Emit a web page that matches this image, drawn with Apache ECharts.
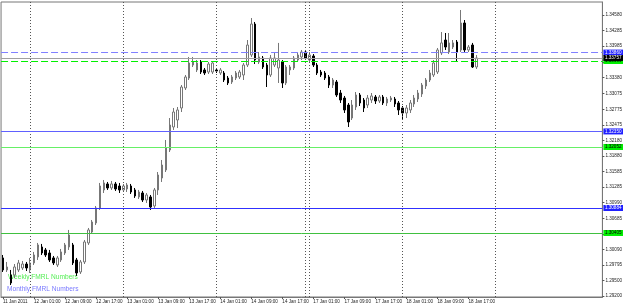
<!DOCTYPE html>
<html><head><meta charset="utf-8">
<script src="https://cdn.jsdelivr.net/npm/echarts@6/dist/echarts.min.js"></script>
<style>html,body{margin:0;padding:0;background:#fff}#c{width:625px;height:307px}</style>
</head><body><div id="c"></div>
<script>
// Hourly EURUSD candles, 11 Jan 2011 17:00 .. 18 Jan 2011 19:00
const days = ['11 Jan','12 Jan','13 Jan','14 Jan','17 Jan','18 Jan','19 Jan','20 Jan'];
const open = [1.29927,1.29697,1.29601,1.29601,1.29697,1.29735,1.29811,1.29697,1.29831,1.29946,
1.30137,1.30080,1.30022,1.29927,1.29792,1.29888,1.30022,1.30137,1.30176,1.29888,
1.29658,1.29850,1.30214,1.30424,1.30597,1.30884,1.31229,1.31344,1.31267,1.31344,
1.31305,1.31229,1.31248,1.31305,1.31229,1.31095,1.31171,1.31037,1.31095,1.30922,
1.31229,1.31458,1.31612,1.31995,1.32435,1.32569,1.32799,1.33182,1.33373,1.33622,
1.33527,1.33680,1.33527,1.33488,1.33488,1.33527,1.33469,1.33469,1.33373,1.33297,
1.33373,1.33393,1.33431,1.33622,1.33814,1.34407,1.33680,1.33756,1.33622,1.33431,
1.33622,1.33565,1.33680,1.33278,1.33527,1.33565,1.33718,1.33776,1.33871,1.33718,
1.33795,1.33622,1.33488,1.33469,1.33393,1.33239,1.33297,1.33086,1.32990,1.32856,
1.32607,1.32818,1.33048,1.32952,1.32856,1.32952,1.33010,1.32933,1.33010,1.32895,
1.32952,1.32971,1.32895,1.32799,1.32703,1.32761,1.32876,1.32971,1.33067,1.33220,
1.33335,1.33431,1.33488,1.33852,1.34101,1.33871,1.33967,1.34063,1.33910,1.34427,
1.33910,1.34005,1.33584];
const close = [1.29697,1.29754,1.29448,1.29754,1.29831,1.29811,1.29735,1.29831,1.29984,1.30176,
1.30022,1.29984,1.29888,1.29831,1.29927,1.30042,1.30176,1.30367,1.29831,1.29639,
1.29850,1.30233,1.30463,1.30616,1.30884,1.31305,1.31363,1.31267,1.31344,1.31248,
1.31229,1.31305,1.31324,1.31190,1.31114,1.31190,1.31037,1.31133,1.30903,1.31229,
1.31516,1.31707,1.32033,1.32473,1.32722,1.32761,1.33201,1.33393,1.33661,1.33680,
1.33661,1.33488,1.33469,1.33641,1.33661,1.33507,1.33527,1.33335,1.33278,1.33393,
1.33469,1.33488,1.33622,1.34005,1.34407,1.33718,1.33776,1.33584,1.33431,1.33756,
1.33756,1.33718,1.33278,1.33584,1.33584,1.33756,1.33814,1.33871,1.33756,1.33814,
1.33622,1.33469,1.33431,1.33373,1.33239,1.33335,1.33048,1.32952,1.32761,1.32531,
1.32856,1.33048,1.32895,1.32799,1.32990,1.33029,1.32933,1.33010,1.32895,1.32971,
1.32990,1.32876,1.32761,1.32703,1.32799,1.32895,1.32990,1.33086,1.33239,1.33335,
1.33469,1.33661,1.33910,1.34045,1.33967,1.34045,1.34045,1.33871,1.34427,1.33910,
1.33967,1.33584,1.33757];
const low = [1.29658,1.29658,1.29409,1.29543,1.29658,1.29697,1.29677,1.29639,1.29792,1.29888,
1.29984,1.29946,1.29850,1.29792,1.29754,1.29850,1.29984,1.30080,1.29792,1.29582,
1.29620,1.29811,1.30176,1.30386,1.30558,1.30846,1.31171,1.31229,1.31229,1.31210,
1.31171,1.31190,1.31190,1.31152,1.31076,1.31056,1.30999,1.30980,1.30846,1.30884,
1.31133,1.31382,1.31573,1.31956,1.32378,1.32415,1.32722,1.33144,1.33335,1.33584,
1.33488,1.33450,1.33431,1.33450,1.33450,1.33469,1.33431,1.33297,1.33239,1.33259,
1.33335,1.33354,1.33335,1.33584,1.33776,1.33641,1.33641,1.33546,1.33201,1.33393,
1.33584,1.33278,1.33182,1.33239,1.33431,1.33527,1.33680,1.33718,1.33718,1.33680,
1.33584,1.33431,1.33393,1.33335,1.33182,1.33182,1.33010,1.32895,1.32703,1.32435,
1.32569,1.32761,1.32837,1.32722,1.32799,1.32895,1.32876,1.32895,1.32856,1.32837,
1.32914,1.32818,1.32665,1.32569,1.32607,1.32703,1.32818,1.32914,1.33010,1.33163,
1.33297,1.33393,1.33450,1.33814,1.33910,1.33833,1.33929,1.33680,1.33871,1.33871,
1.33871,1.33565,1.33546];
const high = [1.29984,1.29850,1.29697,1.29811,1.29888,1.29869,1.29850,1.29927,1.30042,1.30214,
1.30195,1.30118,1.30080,1.29965,1.29965,1.30099,1.30214,1.30463,1.30214,1.29927,
1.29888,1.30271,1.30501,1.30654,1.30922,1.31363,1.31420,1.31382,1.31401,1.31382,
1.31363,1.31344,1.31363,1.31344,1.31267,1.31229,1.31210,1.31171,1.31133,1.31267,
1.31573,1.31803,1.32186,1.32607,1.32799,1.32818,1.33239,1.33431,1.33776,1.33776,
1.33718,1.33718,1.33565,1.33680,1.33699,1.33565,1.33565,1.33507,1.33412,1.33431,
1.33507,1.33527,1.33661,1.34101,1.34522,1.34446,1.33871,1.33795,1.33661,1.33814,
1.33852,1.34045,1.33718,1.33622,1.33622,1.33795,1.33852,1.33910,1.33910,1.33871,
1.33833,1.33661,1.33527,1.33507,1.33431,1.33373,1.33335,1.33144,1.33029,1.32895,
1.32952,1.33105,1.33086,1.32990,1.33048,1.33086,1.33048,1.33048,1.33048,1.33010,
1.33029,1.33010,1.32933,1.32837,1.32856,1.32952,1.33048,1.33144,1.33278,1.33373,
1.33527,1.33718,1.33948,1.34254,1.34235,1.34235,1.34101,1.34101,1.34676,1.34484,
1.34005,1.34045,1.33814];
const tickLabels = [1.29200,1.29500,1.29795,1.30090,1.30385,1.30685,1.30990,1.31285,1.31585,1.31880,
1.32180,1.32475,1.32775,1.33075,1.33380,1.33680,1.33985,1.34285,1.34580];
const levels = [1.33860, 1.33757, 1.33699, 1.32350, 1.32052, 1.30884, 1.30405];
const separators = ['12 Jan 00:00','13 Jan 00:00','14 Jan 00:00','14 Jan 23:00','17 Jan 00:00','18 Jan 00:00','19 Jan 00:00'];
const notes = ['Weekly FMRL Numbers','Monthly FMRL Numbers'];

const cats = [];
days.forEach((d,k)=>{ for(let h=(k===0?17:0); h<24; h++) cats.push(d+' '+String(h).padStart(2,'0')+':00'); });
cats.length = 155;
const n = open.length;
const candles = open.map((o,i)=>[o, close[i], low[i], high[i]]);

const levelStyles = [
  {color:'#8080ff', type:[7,3], box:'#2020ff', text:'#fff'},
  {color:'#a0a0a0', type:'solid', box:'#000', text:'#fff'},
  {color:'#00f000', type:[7,3], box:'#00ee00', text:'#000'},
  {color:'#6060ff', type:'solid', box:'#2020ff', text:'#fff'},
  {color:'#66f066', type:'solid', box:'#00ee00', text:'#000'},
  {color:'#3030ff', type:'solid', box:'#2020ff', text:'#fff'},
  {color:'#40c040', type:'solid', box:'#00ee00', text:'#000'}
];
const order = [2,0,1,3,4,5,6];
const FONT = 'Liberation Sans';

const levelSeries = order.map(k=>({
  type:'line', data:[], silent:true, z:3,
  markLine:{silent:true, symbol:['none','none'], animation:false, precision:5,
    lineStyle:{color:levelStyles[k].color, type:levelStyles[k].type, width:1, opacity:1},
    label:{show:true, position:'end', distance:1, formatter:()=>levels[k].toFixed(5), color:levelStyles[k].text,
      backgroundColor:levelStyles[k].box, fontSize:4.6, fontFamily:FONT, padding:[0.5,1.5,0.5,1.5]},
    emphasis:{disabled:true},
    data:[{yAxis:levels[k]}]}
}));

const isLabel = (i)=> i<n && (i===0 || ['01','09','17'].includes(cats[i].slice(-5,-3)));
const chart = echarts.init(document.getElementById('c'), null, {renderer:'canvas'});
chart.setOption({
  animation:false,
  backgroundColor:'#fff',
  grid:{left:1, right:21, top:2, bottom:10, show:true, borderColor:'#777', borderWidth:1, backgroundColor:'#fff'},
  xAxis:{type:'category', data:cats, boundaryGap:true,
    axisLine:{show:true, lineStyle:{color:'#777'}},
    axisTick:{show:true, length:2, alignWithLabel:true, lineStyle:{color:'#555'}, interval:isLabel},
    axisLabel:{show:true, fontSize:4.6, fontFamily:FONT, color:'#222', margin:2, align:'left', hideOverlap:false,
      interval:isLabel, formatter:(v,i)=> i===0 ? '11 Jan 2011' : v},
    splitLine:{show:false}},
  yAxis:{type:'value', position:'right', min:1.29179, max:1.34829, scale:true,
    axisLine:{show:true, lineStyle:{color:'#777'}},
    axisTick:{show:true, length:2, customValues:tickLabels, lineStyle:{color:'#555'}},
    axisLabel:{show:true, customValues:tickLabels, formatter:v=>v.toFixed(5), fontSize:4.6, fontFamily:FONT, color:'#222', margin:3},
    splitLine:{show:false}},
  series:[{
    type:'candlestick', data:candles, barWidth:2, z:4,
    itemStyle:{color:'#fff', color0:'#000', borderColor:'#777', borderColor0:'#000', borderWidth:1},
    markLine:{silent:true, symbol:['none','none'], animation:false, precision:5,
      lineStyle:{color:'#555', type:[1,2], width:1}, label:{show:false},
      data:separators.map(s=>({xAxis:s}))}
  }].concat(levelSeries),
  graphic:[
    {type:'text', left:8, top:274, style:{text:notes[0], fill:'#55ee55', font:'6.6px "Liberation Sans"'}},
    {type:'text', left:7, top:286, style:{text:notes[1], fill:'#7a7aff', font:'6.6px "Liberation Sans"'}}
  ]
});
</script></body></html>
